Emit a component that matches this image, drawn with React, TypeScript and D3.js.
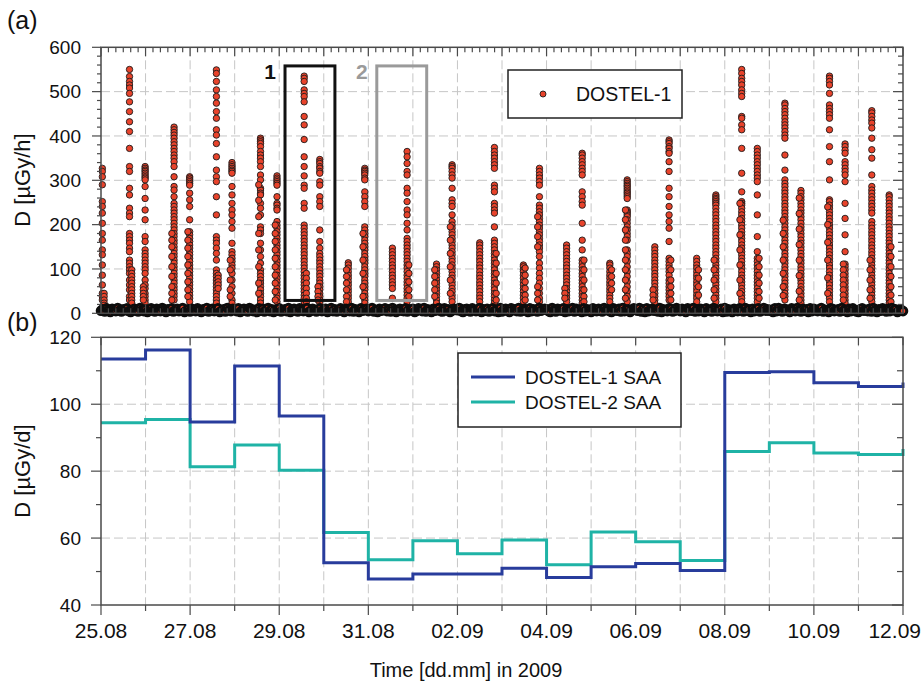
import React, { useEffect, useRef } from "react";
import * as d3 from "d3";

const W = 923, H = 689;

// time axis in days after 25.08.2009 00:00
const dayLabels = ["25.08", "27.08", "29.08", "31.08", "02.09", "04.09", "06.09", "08.09", "10.09", "12.09"];

// (b) daily SAA dose, one value per day (last entry = start of 12.09)
const dostel1Daily = [113.5, 116.2, 94.7, 111.4, 96.5, 52.6, 47.8, 49.3, 49.3, 51.0, 48.2, 51.4, 52.4, 50.3, 109.5, 109.7, 106.4, 105.3, 106.5];
const dostel2Daily = [94.5, 95.4, 81.3, 87.8, 80.3, 61.7, 53.5, 59.2, 55.3, 59.4, 52.0, 61.8, 58.9, 53.3, 85.9, 88.5, 85.4, 85.0, 86.6];

// (a) GCR background dose rate, hourly, from 25.08 00:00
const gcrHourly = [
  6, 9, 4, 11, 7, 3, 10, 8, 5, 12, 6, 4, 9, 7, 11, 5, 3, 8, 10, 6, 4, 12, 7, 5,
  9, 3, 8, 11, 6, 4, 10, 7, 5, 12, 8, 3, 9, 6, 11, 4, 7, 10, 5, 8, 12, 3, 6, 9,
  4, 10, 7, 5, 11, 8, 3, 9, 6, 12, 4, 7, 10, 5, 8, 11, 3, 6, 9, 4, 12, 7, 5, 10,
  8, 5, 11, 3, 7, 10, 6, 4, 12, 9, 5, 8, 3, 11, 6, 10, 4, 7, 12, 5, 9, 3, 8, 6,
  11, 4, 7, 9, 5, 12, 3, 8, 10, 6, 4, 11, 7, 5, 9, 12, 3, 6, 10, 8, 4, 7, 11, 5,
  6, 10, 3, 8, 12, 5, 9, 4, 7, 11, 6, 3, 10, 8, 5, 12, 4, 9, 7, 3, 11, 6, 8, 10,
  5, 9, 12, 4, 7, 3, 10, 6, 8, 11, 5, 9, 4, 12, 7, 3, 8, 10, 6, 5, 11, 4, 9, 7,
  10, 3, 6, 11, 8, 5, 12, 4, 9, 7, 3, 10, 6, 8, 12, 5, 4, 11, 7, 9, 3, 6, 10, 8,
  7, 12, 5, 3, 9, 10, 6, 4, 11, 8, 5, 7, 12, 3, 9, 6, 10, 4, 8, 11, 5, 7, 3, 12,
  4, 8, 10, 6, 3, 11, 7, 9, 5, 12, 4, 6, 10, 8, 3, 11, 5, 9, 7, 4, 12, 6, 8, 10,
  9, 5, 3, 12, 7, 4, 10, 8, 6, 11, 3, 9, 5, 7, 12, 4, 10, 6, 8, 3, 11, 5, 9, 7,
  3, 11, 8, 5, 10, 6, 4, 12, 7, 9, 5, 3, 11, 8, 6, 10, 4, 12, 5, 7, 9, 3, 8, 11,
  8, 6, 12, 4, 9, 3, 11, 5, 7, 10, 6, 8, 4, 12, 3, 9, 7, 5, 11, 10, 4, 6, 12, 8,
  5, 10, 7, 3, 11, 8, 6, 12, 4, 9, 5, 10, 7, 3, 11, 6, 8, 4, 12, 9, 5, 7, 10, 3,
  12, 4, 9, 6, 3, 10, 8, 5, 11, 7, 4, 12, 6, 9, 3, 10, 5, 8, 11, 4, 7, 12, 6, 9,
  6, 8, 3, 11, 5, 12, 7, 4, 10, 9, 6, 3, 11, 8, 5, 12, 7, 4, 10, 6, 9, 3, 11, 5,
  10, 7, 5, 9, 12, 4, 8, 6, 3, 11, 10, 5, 7, 9, 4, 12, 6, 8, 3, 10, 5, 11, 7, 4,
  3, 9, 11, 6, 8, 5, 10, 4, 12, 7, 3, 9, 6, 11, 8, 4, 10, 5, 12, 7, 9, 3, 6, 8,
  5,
];

// (a) SAA crossings: time (days) and dose rates of the points in each column
const saaPasses = [
  { t: 0.03, v: [327, 320, 308, 290, 252, 241, 226, 203, 180, 165, 143, 132, 109, 86, 64, 45, 38, 30] },
  { t: 0.07, v: [45, 38, 30, 23, 18] },
  { t: 0.64, v: [550, 534, 523, 515, 508, 496, 477, 455, 432, 410, 372, 331, 320, 282, 267, 237, 226, 218, 180, 173, 165, 158, 147, 139, 120, 113, 105, 98, 90, 75, 64, 53, 38, 30] },
  { t: 0.69, v: [98, 90, 83, 75, 68, 60, 53, 45, 38, 30, 23] },
  { t: 0.99, v: [331, 327, 323, 320, 316, 312, 308, 305, 301, 286, 259, 233, 211, 173, 162, 143, 135, 128, 120, 113, 105, 98, 90, 75, 64, 56, 45, 38, 30, 23] },
  { t: 0.95, v: [60, 53, 45, 38, 30] },
  { t: 1.64, v: [420, 414, 408, 402, 395, 387, 380, 372, 365, 357, 350, 342, 331, 308, 286, 278, 263, 248, 241, 233, 226, 218, 211, 203, 195, 188, 180, 173, 165, 158, 150, 143, 135, 128, 120, 113, 105, 98, 90, 83, 75, 68, 60, 53, 45, 38, 30] },
  { t: 1.59, v: [180, 165, 150, 128, 105, 83, 60, 45, 30] },
  { t: 1.99, v: [308, 305, 301, 297, 293, 289, 271, 256, 241, 211, 184, 177, 169, 162, 154, 147, 139, 132, 124, 117, 109, 102, 94, 86, 79, 71, 64, 56, 49, 41, 34, 26] },
  { t: 1.95, v: [184, 165, 147, 128, 109, 90, 71, 53, 38] },
  { t: 2.59, v: [549, 541, 523, 504, 489, 474, 455, 440, 414, 402, 383, 353, 323, 308, 297, 263, 222, 173, 165, 158, 147, 135, 120, 98, 90, 83, 75, 68, 60, 53, 45, 38, 30, 23] },
  { t: 2.63, v: [86, 79, 71, 64, 56] },
  { t: 2.94, v: [340, 335, 331, 327, 323, 320, 316, 286, 267, 248, 233, 222, 207, 192, 158, 139, 132, 124, 117, 109, 102, 90, 75, 60, 45, 30, 23] },
  { t: 2.9, v: [120, 98, 75, 53, 38] },
  { t: 3.58, v: [395, 391, 387, 383, 376, 365, 357, 350, 342, 331, 312, 301, 282, 278, 271, 267, 248, 237, 222, 195, 188, 180, 158, 143, 128, 113, 98, 90, 83, 75, 68, 60, 53, 45, 38, 30, 23] },
  { t: 3.54, v: [290, 255, 218, 180, 143, 105, 68, 45] },
  { t: 3.95, v: [310, 305, 301, 297, 293, 289, 263, 248, 244, 237, 233, 207, 199, 192, 184, 177, 169, 162, 154, 147, 139, 132, 124, 117, 109, 102, 94, 86, 79, 71, 64, 56, 49, 41, 34, 26] },
  { t: 3.91, v: [199, 180, 162, 143, 124, 105, 86, 68, 49, 30] },
  { t: 4.56, v: [535, 530, 523, 504, 496, 489, 477, 444, 425, 392, 353, 331, 310, 289, 282, 248, 237, 199, 192, 184, 177, 169, 162, 154, 147, 139, 132, 124, 117, 109, 102, 94, 86, 79, 71, 64, 56, 49, 41, 34, 26] },
  { t: 4.61, v: [90, 79, 68, 56, 45, 34, 26] },
  { t: 4.91, v: [347, 342, 338, 331, 327, 320, 316, 297, 289, 263, 252, 241, 188, 162, 147, 135, 128, 120, 113, 105, 98, 90, 83, 75, 68, 60, 53, 45, 38, 30, 23] },
  { t: 4.87, v: [60, 49, 38, 30] },
  { t: 5.55, v: [114, 109, 102, 94, 86, 79, 71, 64, 56, 49, 41, 34, 26] },
  { t: 5.51, v: [98, 83, 68, 53, 38, 26] },
  { t: 5.92, v: [327, 323, 320, 316, 312, 305, 301, 274, 263, 252, 241, 195, 188, 180, 173, 165, 158, 150, 143, 135, 128, 120, 113, 105, 98, 90, 83, 75, 68, 60, 53, 45, 38, 30, 23] },
  { t: 5.88, v: [180, 150, 120, 90, 60, 38] },
  { t: 6.54, v: [147, 139, 132, 124, 117, 109, 102, 94, 86, 79, 71, 64, 56, 34] },
  { t: 6.87, v: [365, 353, 338, 320, 312, 282, 271, 252, 233, 222, 203, 188, 169, 162, 154, 147, 139, 132, 124, 117, 109, 102, 94, 86, 79, 71, 64, 56, 49, 41, 34, 26] },
  { t: 6.91, v: [109, 90, 71, 53, 38] },
  { t: 7.53, v: [111, 105, 98, 90, 83, 75, 68, 60, 53, 45, 38, 30, 23] },
  { t: 7.49, v: [98, 83, 68, 53, 38] },
  { t: 7.88, v: [335, 331, 327, 320, 312, 305, 282, 256, 248, 241, 222, 207, 199, 192, 184, 177, 169, 162, 154, 147, 139, 132, 124, 117, 109, 102, 94, 86, 79, 71, 64, 56, 49, 41, 34, 26] },
  { t: 7.84, v: [195, 165, 135, 105, 75, 45] },
  { t: 8.5, v: [159, 154, 147, 139, 132, 124, 117, 109, 102, 94, 86, 79, 71, 64, 56, 49, 41, 34, 26] },
  { t: 8.83, v: [374, 365, 357, 350, 342, 335, 327, 289, 282, 274, 248, 241, 233, 226, 195, 165, 158, 150, 143, 135, 128, 120, 113, 105, 98, 90, 83, 75, 68, 60, 53, 45, 38, 30, 23] },
  { t: 8.87, v: [135, 113, 90, 68, 45, 30] },
  { t: 9.48, v: [109, 105, 98, 94, 86, 79, 71, 64, 56, 49, 41, 34, 26] },
  { t: 9.52, v: [102, 86, 71, 56, 41, 30] },
  { t: 9.84, v: [327, 320, 312, 305, 297, 289, 263, 244, 237, 229, 222, 214, 207, 199, 192, 184, 177, 169, 162, 154, 147, 139, 128, 113, 102, 90, 79, 68, 56, 45, 34, 26] },
  { t: 9.8, v: [218, 195, 173, 150, 60, 45, 30] },
  { t: 10.45, v: [154, 147, 139, 132, 124, 117, 109, 102, 94, 86, 79, 71, 64, 56, 49, 41, 34, 26] },
  { t: 10.41, v: [56, 45, 34] },
  { t: 10.8, v: [361, 357, 350, 342, 335, 327, 320, 312, 274, 263, 252, 244, 203, 165, 143, 120, 113, 105, 98, 90, 83, 75, 68, 60, 53, 45, 38, 30, 23] },
  { t: 10.84, v: [120, 98, 75, 53, 38, 26] },
  { t: 11.42, v: [113, 109, 102, 94, 86, 79, 71, 64, 56, 49, 41, 34, 26] },
  { t: 11.46, v: [98, 83, 68, 53] },
  { t: 11.81, v: [301, 297, 293, 289, 286, 282, 278, 274, 271, 267, 263, 259, 233, 229, 226, 222, 218, 211, 203, 195, 188, 180, 173, 165, 143, 135, 128, 117, 105, 94, 83, 71, 60, 49, 38, 26] },
  { t: 11.77, v: [233, 211, 188, 165, 143, 120, 98, 75, 53, 34] },
  { t: 12.43, v: [150, 143, 135, 128, 120, 113, 105, 98, 90, 83, 75, 68, 60, 53, 45, 38, 30, 23] },
  { t: 12.39, v: [53, 41, 30] },
  { t: 12.75, v: [391, 387, 383, 376, 372, 365, 361, 342, 320, 282, 263, 241, 222, 207, 192, 162, 124, 117, 109, 102, 94, 86, 75, 68, 60, 53, 45, 38, 30] },
  { t: 12.79, v: [120, 98, 75, 60, 45, 30] },
  { t: 13.37, v: [124, 117, 109, 102, 94, 86, 79, 71, 64, 56, 49, 41, 34, 26] },
  { t: 13.41, v: [98, 79, 60, 41] },
  { t: 13.8, v: [267, 263, 259, 256, 252, 248, 244, 237, 229, 222, 214, 207, 199, 192, 184, 177, 169, 162, 154, 147, 139, 132, 124, 117, 109, 102, 94, 86, 79, 71, 64, 56, 49, 41, 34, 26] },
  { t: 13.76, v: [120, 98, 75, 53, 34] },
  { t: 14.38, v: [550, 541, 530, 523, 515, 504, 496, 489, 444, 440, 425, 414, 372, 316, 274, 252, 248, 244, 237, 229, 222, 214, 207, 199, 192, 184, 177, 169, 162, 154, 147, 139, 132, 124, 117, 109, 102, 94, 86, 79, 71, 64, 56, 49, 41, 34, 26] },
  { t: 14.34, v: [248, 211, 177, 143, 109, 75, 45] },
  { t: 14.73, v: [372, 365, 357, 350, 342, 335, 327, 320, 312, 305, 297, 267, 222, 173, 139, 124, 117, 109, 102, 94, 86, 79, 71, 64, 56, 49, 41, 34, 26] },
  { t: 14.77, v: [124, 105, 86, 68, 49, 34] },
  { t: 15.35, v: [474, 470, 462, 455, 448, 440, 432, 425, 418, 410, 402, 395, 357, 323, 301, 293, 286, 278, 271, 263, 256, 248, 241, 233, 226, 218, 211, 203, 195, 188, 180, 173, 165, 158, 150, 143, 135, 128, 120, 113, 105, 98, 90, 83, 75, 68, 60, 53, 45, 38, 30] },
  { t: 15.31, v: [210, 180, 150, 120, 90, 60, 40] },
  { t: 15.71, v: [277, 271, 263, 256, 248, 241, 233, 226, 218, 211, 203, 195, 188, 180, 173, 165, 158, 150, 143, 135, 128, 120, 113, 105, 98, 90, 83, 75, 68, 60, 53, 45, 38, 30, 23] },
  { t: 15.67, v: [260, 225, 190, 155, 120, 85, 50, 30] },
  { t: 16.35, v: [535, 530, 523, 515, 496, 470, 462, 455, 448, 440, 414, 376, 342, 301, 256, 252, 244, 237, 229, 222, 214, 207, 199, 192, 184, 177, 169, 162, 154, 147, 139, 132, 124, 117, 109, 102, 94, 86, 79, 71, 64, 56, 49, 41, 34, 26] },
  { t: 16.31, v: [240, 200, 160, 120, 80, 45] },
  { t: 16.7, v: [382, 376, 368, 361, 342, 335, 327, 320, 312, 297, 248, 214, 177, 139, 111, 105, 98, 90, 83, 75, 68, 60, 53, 45, 38, 30, 23] },
  { t: 16.66, v: [111, 98, 86, 75, 64, 53, 41, 30] },
  { t: 17.3, v: [457, 452, 444, 436, 429, 418, 395, 369, 350, 312, 286, 278, 271, 263, 256, 248, 241, 233, 226, 207, 199, 192, 184, 177, 169, 162, 154, 147, 139, 132, 124, 117, 109, 102, 94, 86, 79, 71, 64, 56, 49, 41, 34, 26] },
  { t: 17.26, v: [120, 98, 75, 53, 34] },
  { t: 17.69, v: [267, 263, 256, 248, 241, 233, 226, 218, 211, 203, 195, 188, 180, 173, 165, 158, 150, 143, 135, 128, 120, 113, 105, 98, 90, 83, 75, 68, 60, 53, 45, 38, 30, 23] },
  { t: 17.73, v: [150, 128, 105, 83, 60, 41, 26] },
];

// highlighted time windows in (a)
const windows = [
  { label: "1", t0: 4.13, t1: 5.25, v0: 29, v1: 558 },
  { label: "2", t0: 6.19, t1: 7.31, v0: 29, v1: 558 },
];

const FONT = "'Liberation Sans', Arial, sans-serif";
const AXIS = "#4a4a4a";
const GRID = "#c6c6c6";
const BLUE = "#283c9c";
const TEAL = "#1fb3a6";
const DOT = "#e8432b";

const drawChart = (node: SVGSVGElement) => {
  const svg = d3.select(node);
  svg.selectAll("*").remove();
  svg.append("rect").attr("width", W).attr("height", H).attr("fill", "#fff");

  const x = d3.scaleLinear().domain([0, 18]).range([101, 903]);
  const yA = d3.scaleLinear().domain([0, 600]).range([313.3, 47.3]);
  const yB = d3.scaleLinear().domain([40, 120]).range([605, 337.3]);
  const days = d3.range(0, 19);
  const [xl, xr] = x.range();

  const line = (g: any, x1: number, y1: number, x2: number, y2: number, c = AXIS, w = 1.2) =>
    g.append("line").attr("x1", x1).attr("y1", y1).attr("x2", x2).attr("y2", y2)
      .attr("stroke", c).attr("stroke-width", w);

  const grid = (g: any, y: any, vals: number[]) => {
    const [yb, yt] = y.range();
    days.slice(1, 18).forEach(d => line(g, x(d), yt, x(d), yb, GRID, 1).attr("stroke-dasharray", "9,4"));
    vals.forEach(v => line(g, xl, y(v), xr, y(v), GRID, 1).attr("stroke-dasharray", "9,4"));
  };

  // ---------- panel (a) ----------
  const a = svg.append("g");
  grid(a, yA, [100, 200, 300, 400, 500]);

  const pts: { t: number; v: number }[] = [];
  saaPasses.forEach(p => p.v.forEach(v => pts.push({ t: p.t, v })));
  a.append("g").selectAll("circle").data(pts).join("circle")
    .attr("cx", d => x(d.t)).attr("cy", d => yA(d.v)).attr("r", 3.2)
    .attr("fill", DOT).attr("stroke", "#1c1c1c").attr("stroke-width", 0.9);

  // background band: dense overlapping points, outlines dominate
  a.append("g").selectAll("circle").data(gcrHourly).join("circle")
    .attr("cx", (_, i) => x(i / 24)).attr("cy", v => yA(v)).attr("r", 3.8)
    .attr("fill", DOT).attr("stroke", "#0d0d0d").attr("stroke-width", 3);

  windows.forEach((w, i) => {
    const c = i === 0 ? "#111" : "#9a9a9a";
    a.append("rect").attr("x", x(w.t0)).attr("y", yA(w.v1))
      .attr("width", x(w.t1) - x(w.t0)).attr("height", yA(w.v0) - yA(w.v1))
      .attr("fill", "none").attr("stroke", c).attr("stroke-width", 3);
    a.append("text").attr("x", x(w.t0) - 15).attr("y", yA(w.v1) + 13)
      .attr("text-anchor", "middle").attr("font-weight", "bold").attr("font-size", 21)
      .attr("font-family", FONT).attr("fill", c).text(w.label);
  });

  // frame + ticks
  const [aB, aT] = yA.range();
  a.append("rect").attr("x", xl).attr("y", aT).attr("width", xr - xl).attr("height", aB - aT)
    .attr("fill", "none").attr("stroke", AXIS).attr("stroke-width", 1.5);
  d3.range(0, 601, 20).forEach(v => {
    const major = v % 100 === 0;
    line(a, xl - (major ? 9 : 4), yA(v), xl, yA(v));
    line(a, xr - (major ? 10 : 5), yA(v), xr, yA(v));
  });
  d3.range(0, 18 * 6 + 1).forEach(i => {
    const major = i % 6 === 0;
    const xx = x(i / 6);
    line(a, xx, aT, xx, aT + (major ? 9 : 5));
    line(a, xx, aB, xx, aB - (major ? 9 : 5));
  });
  a.selectAll("text.tick").data(d3.range(0, 601, 100)).join("text").attr("class", "tick")
    .attr("x", 81).attr("y", v => yA(v)).attr("dy", "0.35em").attr("text-anchor", "end")
    .attr("font-size", 19).attr("font-family", FONT).attr("fill", "#111").text(v => v);

  // legend (a)
  a.append("rect").attr("x", 508).attr("y", 70).attr("width", 174).attr("height", 48)
    .attr("fill", "#fff").attr("stroke", "#222").attr("stroke-width", 1.5);
  a.append("circle").attr("cx", 543).attr("cy", 94).attr("r", 3)
    .attr("fill", DOT).attr("stroke", "#1c1c1c").attr("stroke-width", 0.9);
  a.append("text").attr("x", 576).attr("y", 101).attr("font-size", 19.5).attr("font-family", FONT)
    .attr("fill", "#111").text("DOSTEL-1");

  // ---------- panel (b) ----------
  const b = svg.append("g");
  grid(b, yB, [60, 80, 100]);

  const step = d3.line<number>().x((_, i) => x(i)).y(v => yB(v)).curve(d3.curveStepAfter);
  b.append("path").attr("d", step(dostel2Daily)).attr("fill", "none").attr("stroke", TEAL).attr("stroke-width", 3);
  b.append("path").attr("d", step(dostel1Daily)).attr("fill", "none").attr("stroke", BLUE).attr("stroke-width", 3);

  const [bB, bT] = yB.range();
  b.append("rect").attr("x", xl).attr("y", bT).attr("width", xr - xl).attr("height", bB - bT)
    .attr("fill", "none").attr("stroke", AXIS).attr("stroke-width", 1.5);
  d3.range(40, 121, 10).forEach(v => {
    const major = v % 20 === 0;
    line(b, xl - (major ? 10 : 5), yB(v), xl, yB(v));
    line(b, xr - (major ? 11 : 6), yB(v), xr, yB(v));
  });
  days.forEach(d => {
    line(b, x(d), bT, x(d), bT + 8);
    line(b, x(d), bB, x(d), bB + (d % 2 === 0 ? 10 : 6));
  });
  b.selectAll("text.ytick").data(d3.range(40, 121, 20)).join("text").attr("class", "ytick")
    .attr("x", 81).attr("y", v => yB(v)).attr("dy", "0.35em").attr("text-anchor", "end")
    .attr("font-size", 19).attr("font-family", FONT).attr("fill", "#111").text(v => v);
  const last = dayLabels.length - 1;
  b.selectAll("text.xtick").data(dayLabels).join("text").attr("class", "xtick")
    .attr("x", (_, i) => (i === last ? W - 2 : x(i * 2)))
    .attr("text-anchor", (_, i) => (i === last ? "end" : "middle"))
    .attr("y", 638).attr("font-size", 21).attr("font-family", FONT).attr("fill", "#111").text(d => d);

  // legend (b)
  b.append("rect").attr("x", 458).attr("y", 353).attr("width", 223).attr("height", 74)
    .attr("fill", "#fff").attr("stroke", "#222").attr("stroke-width", 1.5);
  [["DOSTEL-1 SAA", BLUE, 377], ["DOSTEL-2 SAA", TEAL, 402]].forEach(([label, c, yy]) => {
    line(b, 471, yy as number, 515, yy as number, c as string, 3);
    b.append("text").attr("x", 525).attr("y", (yy as number) + 7).attr("font-size", 19)
      .attr("font-family", FONT).attr("fill", "#111").text(label as string);
  });

  // ---------- titles ----------
  const txt = (s: string, xx: number, yy: number, size: number, rot = false, anchor = "start") => {
    const t = svg.append("text").attr("font-size", size).attr("font-family", FONT).attr("fill", "#111")
      .attr("text-anchor", anchor).text(s);
    if (rot) t.attr("transform", `translate(${xx},${yy}) rotate(-90)`).attr("dy", "0.35em");
    else t.attr("x", xx).attr("y", yy);
  };
  txt("(a)", 7, 29, 25);
  txt("(b)", 7, 331, 25);
  txt("D [µGy/h]", 22, 180, 22, true, "middle");
  txt("D [µGy/d]", 22, 471, 22, true, "middle");
  txt("Time [dd.mm] in 2009", 466, 677, 20, false, "middle");
};

const App = () => {
  const ref = useRef<SVGSVGElement>(null);
  useEffect(() => {
    if (ref.current) drawChart(ref.current);
  }, []);
  return (
    <svg ref={ref} width={W} height={H}
      style={{ position: "absolute", left: 0, top: 0, display: "block" }} />
  );
};

export default App;
